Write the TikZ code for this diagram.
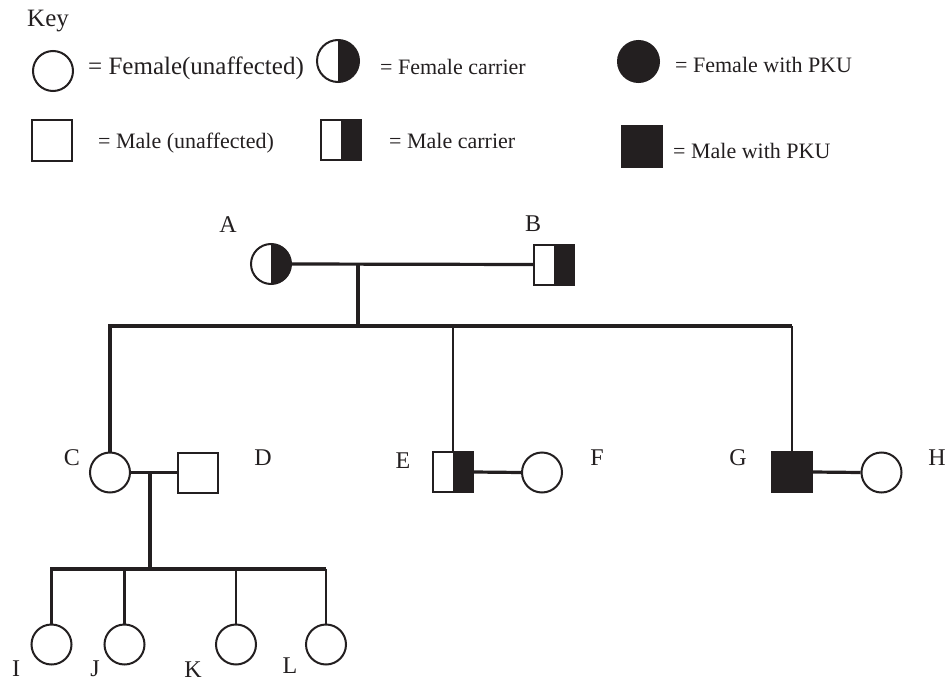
\documentclass[tikz,border=0pt]{standalone}
\usepackage{fontspec}
\setmainfont{Liberation Serif}
\definecolor{ink}{RGB}{35,31,32}
\begin{document}
\begin{tikzpicture}[x=1pt,y=-1pt,
  female/.style={circle,draw=ink,line width=2pt,minimum size=40pt,inner sep=0pt,fill=white},
  male/.style={rectangle,draw=ink,line width=2pt,minimum size=40pt,inner sep=0pt,fill=white},
  carrier/.style={path picture={\fill[ink] (path picture bounding box.north) rectangle (path picture bounding box.south east);}},
  affected/.style={fill=ink},
  tag/.style={inner sep=0pt,font=\fontsize{24}{24}\selectfont,text=ink},
  keytext/.style={anchor=base west,inner sep=0pt,font=\fontsize{22}{22}\selectfont,text=ink},
  link/.style={draw=ink,line width=3.2pt,line join=miter},
  thinlink/.style={draw=ink,line width=2.6pt,line join=miter},
]
\useasboundingbox (0,0) rectangle (950,682);

% ---------- key ----------
\node[anchor=base west,inner sep=0pt,font=\fontsize{25}{25}\selectfont,text=ink] (keytitle) at (27,27) {Key};

\node[female] (kf) at (53,71) {};
\node[keytext,font=\fontsize{25}{25}\selectfont] (kft) at (88,75) {= Female(unaffected)};

\node[female,carrier,minimum size=42pt] (kfc) at (338,61) {};
\node[keytext] (kfct) at (380,75) {= Female carrier};

\node[female,affected,minimum size=41pt] (kfa) at (638.5,61.5) {};
\node[keytext] (kfat) at (675,73) {= Female with PKU};

\node[male] (km) at (52,140.5) {};
\node[keytext] (kmt) at (98,149) {= Male (unaffected)};

\node[male,carrier] (kmc) at (341,140) {};
\node[keytext] (kmct) at (389,149) {= Male carrier};

\node[male,affected] (kma) at (641.5,146.5) {};
\node[keytext] (kmat) at (673,158) {= Male with PKU};

% ---------- generation I ----------
\node[female,carrier] (A) at (271,264) {};
\node[male,carrier] (B) at (554,264.5) {};
\node[tag] (Alab) at (228,225) {A};
\node[tag] (Blab) at (533,224) {B};

% ---------- generation II ----------
\node[female] (C) at (110,472.5) {};
\node[male] (D) at (197.5,472.5) {};
\node[male,carrier] (E) at (453,472) {};
\node[female] (F) at (542,472.5) {};
\node[male,affected] (G) at (792,472) {};
\node[female] (H) at (881.5,472.5) {};

\node[tag] (Clab) at (72,458) {C};
\node[tag] (Dlab) at (263,458) {D};
\node[tag] (Elab) at (403,461) {E};
\node[tag] (Flab) at (597,458) {F};
\node[tag] (Glab) at (738,458) {G};
\node[tag] (Hlab) at (937,458) {H};

% ---------- generation III ----------
\node[female] (I) at (51.5,644.5) {};
\node[female] (J) at (124.5,644.5) {};
\node[female] (K) at (236,644.5) {};
\node[female] (L) at (326,644.5) {};

\node[tag] (Ilab) at (16,669) {I};
\node[tag] (Jlab) at (95,669) {J};
\node[tag] (Klab) at (193,670) {K};
\node[tag] (Llab) at (290,666) {L};

% ---------- connectors ----------
\coordinate (sib) at (0,326);
\coordinate (kid) at (0,569);
\coordinate (AB) at (358,265);
\coordinate (CD) at (150,472.5);

% parents A x B and their children
\draw[link] (A.east) -- (B.west);
\draw[link] (AB) -- (AB |- sib);
\draw[link] (C.north) -- (C.north |- sib) -- (G.north |- sib);
\draw[thinlink] (G.north |- sib) -- (G.north);
\draw[thinlink] (E.north |- sib) -- (E.north);

% couples in generation II
\draw[link] (C.east) -- (D.west);
\draw[link] (E.east) -- (F.west);
\draw[link] (G.east) -- (H.west);

% children of C x D
\draw[link] (CD) -- (CD |- kid);
\draw[link] (I.north) -- (I.north |- kid) -- (L.north |- kid);
\draw[thinlink] (L.north |- kid) -- (L.north);
\draw[link] (J.north |- kid) -- (J.north);
\draw[thinlink] (K.north |- kid) -- (K.north);
\end{tikzpicture}
\end{document}
